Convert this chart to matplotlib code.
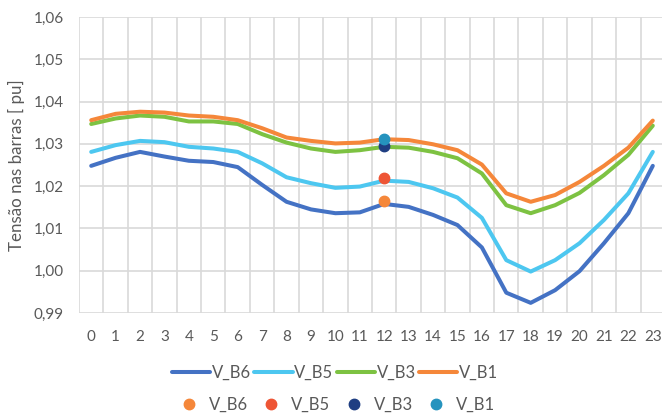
import matplotlib
matplotlib.use("Agg")
import matplotlib.pyplot as plt
from matplotlib.lines import Line2D

hours = list(range(24))
v_b6 = [1.0248, 1.0267, 1.0281, 1.0270, 1.0260, 1.0257, 1.0245, 1.0203, 1.0163, 1.0145,
        1.0136, 1.0138, 1.0158, 1.0151, 1.0132, 1.0108, 1.0055, 0.9948, 0.9924, 0.9954,
        0.9999, 1.0065, 1.0136, 1.0248]
v_b5 = [1.0281, 1.0297, 1.0307, 1.0304, 1.0293, 1.0289, 1.0281, 1.0254, 1.0221, 1.0207,
        1.0196, 1.0199, 1.0213, 1.0210, 1.0195, 1.0173, 1.0125, 1.0025, 0.9998, 1.0025,
        1.0065, 1.0120, 1.0183, 1.0281]
v_b3 = [1.0347, 1.0360, 1.0367, 1.0364, 1.0353, 1.0353, 1.0347, 1.0323, 1.0303, 1.0289,
        1.0281, 1.0285, 1.0293, 1.0291, 1.0281, 1.0266, 1.0230, 1.0155, 1.0136, 1.0155,
        1.0184, 1.0226, 1.0274, 1.0343]
v_b1 = [1.0356, 1.0371, 1.0376, 1.0374, 1.0367, 1.0364, 1.0356, 1.0337, 1.0315, 1.0307,
        1.0301, 1.0303, 1.0311, 1.0309, 1.0299, 1.0285, 1.0251, 1.0183, 1.0163, 1.0179,
        1.0210, 1.0248, 1.0291, 1.0355]
point_hour = 12
point_names = ["V_B6", "V_B5", "V_B3", "V_B1"]
point_values = [1.0166, 1.0219, 1.0295, 1.0311]
line_names = ["V_B6", "V_B5", "V_B3", "V_B1"]
yticks = [0.99, 1.00, 1.01, 1.02, 1.03, 1.04, 1.05, 1.06]

line_colors = ["#4472C4", "#4DC7F0", "#7DC242", "#F5873A"]
point_colors = ["#F5873A", "#EE5535", "#1F3E82", "#2593BE"]
text_color = "#595959"
grid_color = "#D9D9D9"

plt.rcParams["font.family"] = ["Lato", "DejaVu Sans"]

fig = plt.figure(figsize=(6.62, 4.19), dpi=100)
ax = fig.add_axes([79/662, 106/419, 586/662, 296/419])

series = [v_b6, v_b5, v_b3, v_b1]
for vals, c, n in zip(series, line_colors, line_names):
    ax.plot(hours, vals, color=c, lw=2.9, solid_capstyle="round", zorder=3, label=n)
for val, c, n in zip(point_values, point_colors, point_names):
    ax.plot([point_hour], [val], "o", color=c, ms=7.5, zorder=4, label=n)

ax.set_xlim(-0.5, 23.5)
ax.set_ylim(0.99, 1.06)
ax.set_yticks(yticks)
ax.set_yticklabels([f"{t:.2f}".replace(".", ",") for t in yticks])
ax.set_xticks(hours)
ax.set_xticklabels([str(h) for h in hours])
ax.set_xticks([h - 0.5 for h in hours] + [23.5], minor=True)
ax.tick_params(axis="both", which="both", length=0, colors=text_color, labelsize=11)
ax.tick_params(axis="y", pad=11)
ax.tick_params(axis="x", pad=12)
ax.grid(True, axis="y", which="major", color=grid_color, lw=1.2, zorder=0)
ax.grid(True, axis="x", which="minor", color=grid_color, lw=1.2, zorder=0)
for s in ax.spines.values():
    s.set_visible(False)

fig.text(16/662, 1 - 165/419, "Tensão nas barras [ pu]", rotation=90, color=text_color,
         fontsize=12.2, ha="center", va="center")

line_handles = [Line2D([], [], color=c, lw=2.9, solid_capstyle="round") for c in line_colors]
pt_handles = [Line2D([], [], color=c, marker="o", ls="none", ms=7.5) for c in point_colors]

leg1 = fig.legend(line_handles, line_names, loc="center", bbox_to_anchor=(335/662, 1 - 373/419),
                  ncol=4, frameon=False, handlelength=2.3, handletextpad=0.1, columnspacing=0.2,
                  fontsize=12, labelcolor=text_color)
leg2 = fig.legend(pt_handles, point_names, loc="center", bbox_to_anchor=(338/662, 1 - 405/419),
                  ncol=4, frameon=False, handlelength=1.0, handletextpad=0.7, columnspacing=0.9,
                  fontsize=12, labelcolor=text_color)

fig.savefig("out.png", dpi=100)
